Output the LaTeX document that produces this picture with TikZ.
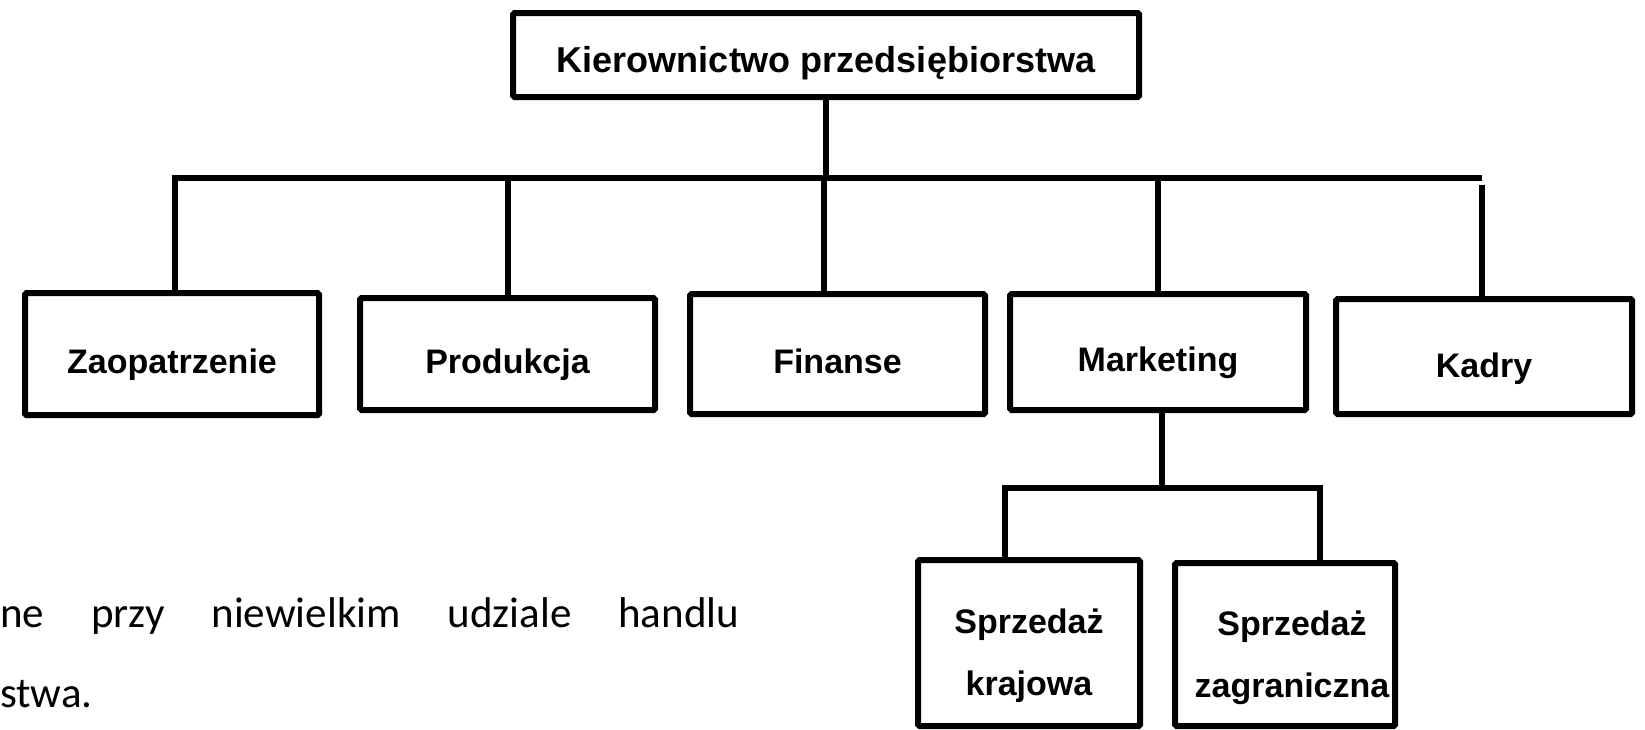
\documentclass[tikz,border=0pt]{standalone}
\usepackage{fontspec}
\setmainfont{Liberation Sans}
\newfontfamily\bodyfont{Carlito}
\begin{document}
\begin{tikzpicture}[x=1pt,y=-1pt,
  box/.style={draw, line width=6pt, rounded corners=1.5pt, inner sep=0pt, fill=white},
  conn/.style={line width=6pt},
  lbl/.style={anchor=base, inner sep=0pt, font=\fontsize{34}{40}\selectfont\bfseries},
  toplbl/.style={anchor=base, inner sep=0pt, font=\fontsize{36}{42}\selectfont\bfseries},
  para/.style={anchor=base west, inner sep=0pt, font=\bodyfont\fontsize{43}{50}\selectfont}]
\useasboundingbox (0,0) rectangle (1645,729);
\fill[white] (0,0) rectangle (1645,729);

% boxes
\node[box, minimum width=626pt, minimum height=84pt]  (top)  at (826,55) {};
\node[box, minimum width=294pt, minimum height=122pt] (zaop) at (172,354) {};
\node[box, minimum width=295pt, minimum height=112pt] (prod) at (507.5,354) {};
\node[box, minimum width=295pt, minimum height=120pt] (fin)  at (837.5,354) {};
\node[box, minimum width=296pt, minimum height=116pt] (mark) at (1158,352) {};
\node[box, minimum width=296pt, minimum height=115pt] (kadry) at (1484,356.5) {};
\node[box, minimum width=222pt, minimum height=166pt] (subL) at (1029,643) {};
\node[box, minimum width=220pt, minimum height=163pt] (subR) at (1285,644.5) {};

% labels
\node[toplbl] (ttop) at (826,72) {Kierownictwo przedsiębiorstwa};
\node[lbl] (tzaop) at (172,373) {Zaopatrzenie};
\node[lbl] (tprod) at (507.5,373) {Produkcja};
\node[lbl] (tfin)  at (837.5,373) {Finanse};
\node[lbl] (tmark) at (1158,371) {Marketing};
\node[lbl] (tkadry) at (1484,377) {Kadry};
\node[lbl] (tsl1) at (1029,633) {Sprzedaż};
\node[lbl] (tsl2) at (1029,695) {krajowa};
\node[lbl] (tsr1) at (1292,635) {Sprzedaż};
\node[lbl] (tsr2) at (1292,697) {zagraniczna};

% connector coordinates
\coordinate (busL) at (175,178);
\coordinate (busR) at (1482,178);
\coordinate (dF) at (824,178);
\coordinate (kTop) at (1482,185);
\coordinate (mD) at (1162,488);
\coordinate (sbL) at (1005,488);
\coordinate (sbR) at (1320,488);

% connectors
\draw[conn] (top.south) -- (top.south |- busL);
\draw[conn] (busL |- zaop.north) -- (busL) -- (busR);
\draw[conn] (prod.north |- busL) -- (prod.north);
\draw[conn] (dF) -- (dF |- fin.north);
\draw[conn] (mark.north |- busL) -- (mark.north);
\draw[conn] (kTop) -- (kTop |- kadry.north);
\draw[conn] (mD |- mark.south) -- (mD);
\draw[conn] (sbL |- subL.north) -- (sbL) -- (sbR) -- (sbR |- subR.north);

% paragraph fragment
\node[para] (p1) at (0,627) {\hbox to 739pt{ne\hfill przy\hfill niewielkim\hfill udziale\hfill handlu}};
\node[para] (p2) at (0,707) {stwa.};
\end{tikzpicture}
\end{document}
